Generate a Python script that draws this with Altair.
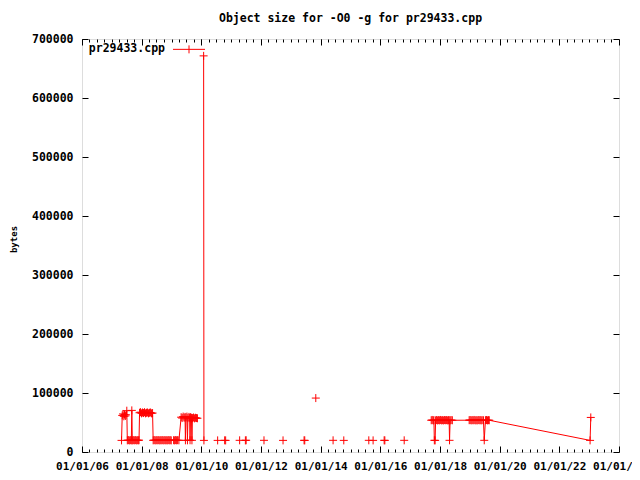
import altair as alt
import pandas as pd

SERIES = "pr29433.cpp"
TITLE = "Object size for -O0 -g for pr29433.cpp"

# ---- data (decimal years, bytes), one list pair per connected run ----
run_2007_years = [2007.326, 2007.349, 2007.376, 2007.403, 2007.426, 2007.453, 2007.477, 2007.503,
                  2007.520, 2007.554, 2007.587, 2007.621, 2007.654, 2007.671, 2007.688, 2007.721,
                  2007.755, 2007.789, 2007.822, 2007.856, 2007.889, 2007.913,
                  2007.930, 2007.963, 2007.997, 2008.030, 2008.064, 2008.097, 2008.131, 2008.164,
                  2008.198, 2008.231, 2008.265, 2008.299, 2008.332, 2008.366,
                  2008.386, 2008.419, 2008.453, 2008.487, 2008.520, 2008.554, 2008.587, 2008.621,
                  2008.654, 2008.688, 2008.721, 2008.755, 2008.789, 2008.822, 2008.856, 2008.889,
                  2008.923, 2008.956, 2008.990,
                  2009.070, 2009.104, 2009.138, 2009.171, 2009.205, 2009.248,
                  2009.322, 2009.356, 2009.389, 2009.423, 2009.453, 2009.466, 2009.483, 2009.517,
                  2009.534, 2009.550, 2009.584, 2009.607, 2009.621, 2009.638, 2009.668, 2009.685,
                  2009.701, 2009.735, 2009.768, 2009.802, 2009.836, 2009.869]
run_2007_values = [19700, 62000, 64500, 60500, 63500, 61000, 63000, 70000,
                   19800, 20200, 19600, 20100, 19800, 70500, 19700, 20100,
                   19800, 20200, 19700, 20000, 19800, 20000,
                   66500, 67500, 65500, 67000, 66000, 67500, 65500, 66500,
                   67000, 65500, 66500, 67000, 65500, 66000,
                   19800, 20200, 19700, 20100, 19800, 20200, 19700, 20000,
                   19800, 20200, 19700, 20100, 19800, 20000, 19700, 20200,
                   19800, 20100, 19700,
                   20000, 19700, 20200, 19800, 20100, 19800,
                   59000, 57500, 60000, 58000, 59500, 19800, 58500, 60000,
                   19800, 57500, 59500, 58000, 19900, 59000, 58000, 19800,
                   57500, 58500, 57000, 58000, 57500, 57200]

run_2010_years = [2010.077, 2010.087]
run_2010_values = [671400, 19700]

single_years = [2010.547, 2010.782, 2010.815, 2011.285, 2011.477, 2011.503, 2012.101, 2012.738,
                2013.443, 2013.466, 2013.836, 2014.416, 2014.775, 2015.614, 2015.758, 2016.128,
                2016.151, 2016.799]
single_values = [19700, 19800, 19700, 19800, 19700, 19900, 19800, 19700,
                 19800, 19700, 91400, 19800, 19700, 19800, 19700, 19800,
                 19700, 19800]

run_2017_years = [2017.705, 2017.738, 2017.772, 2017.795, 2017.809, 2017.836, 2017.852, 2017.886,
                  2017.919, 2017.953, 2017.987, 2018.020, 2018.054, 2018.087, 2018.121, 2018.154,
                  2018.188, 2018.221, 2018.255, 2018.289, 2018.305, 2018.319, 2018.339, 2018.372,
                  2018.413,
                  2018.977, 2019.010, 2019.044, 2019.077, 2019.111, 2019.144, 2019.178, 2019.211,
                  2019.245, 2019.279, 2019.312, 2019.346, 2019.379, 2019.413, 2019.456, 2019.483,
                  2019.523, 2019.557, 2019.591, 2019.624, 2019.651,
                  2023.030, 2023.054]
run_2017_values = [53800, 54300, 53400, 54000, 19800, 19700, 53600, 54200,
                   53500, 54100, 53700, 54300, 53600, 54000, 53500, 54200,
                   53800, 54100, 53600, 54000, 53800, 19800, 53700, 54100,
                   53800,
                   53900, 54200, 53600, 54100, 53700, 54300, 53600, 54000,
                   53500, 54200, 53800, 54100, 53600, 54000, 53800, 19800,
                   53900, 54200, 53600, 54000, 53800,
                   19700, 58600]


def to_ts(y):
    yr = int(y)
    start = pd.Timestamp(yr, 1, 1)
    end = pd.Timestamp(yr + 1, 1, 1)
    return start + (end - start) * (y - yr)


rows = []
seg = 0
for ys, vs in [(run_2007_years, run_2007_values), (run_2010_years, run_2010_values)]:
    for y, v in zip(ys, vs):
        rows.append({"date": to_ts(y), "value": v, "seg": seg})
    seg += 1
for y, v in zip(single_years, single_values):
    rows.append({"date": to_ts(y), "value": v, "seg": seg})
    seg += 1
for y, v in zip(run_2017_years, run_2017_values):
    rows.append({"date": to_ts(y), "value": v, "seg": seg})
df = pd.DataFrame(rows)
df["idx"] = range(len(df))
df["series"] = SERIES

# ---- styling ----
W, H = 537, 413
FONT = "DejaVu Sans Mono"
FS = 11.5
RED = "#ff0000"
CROSS = "M-1,0H1M0,-1V1"

major_x = [alt.DateTime(year=y, month=1, date=1) for y in range(2006, 2025, 2)]
minor_x = [alt.DateTime(year=y, month=m, date=1) for y in range(2006, 2024) for m in (1, 4, 7, 10)]
y_ticks = list(range(0, 700001, 100000))

xscale = alt.Scale(domain=[alt.DateTime(year=2006, month=1, date=1),
                           alt.DateTime(year=2024, month=1, date=1)], nice=False)
yscale = alt.Scale(domain=[0, 700000], nice=False)

ax_x_main = alt.Axis(orient="bottom", values=major_x, format="%m/%d/%y", ticks=False,
                     domain=False, grid=False, labelFont=FONT, labelFontSize=11,
                     labelFontWeight="bold", labelColor="black", labelPadding=8.5,
                     labelOverlap=False, labelFlush=False, title=None)
ax_y_main = alt.Axis(orient="left", values=y_ticks, format="d", ticks=False, domain=False,
                     grid=False, labelFont=FONT, labelFontSize=FS, labelFontWeight="bold",
                     labelColor="black", labelPadding=9, labelOverlap=False, labelFlush=False,
                     title="bytes", titleFont=FONT, titleFontSize=9, titleFontWeight="bold",
                     titleColor="black", titleX=-68.5, titleY=200, titleAngle=270,
                     titleBaseline="middle", titleAlign="center")


def tick_axis(orient, values, size, offset):
    return alt.Axis(orient=orient, offset=offset, values=values, tickSize=size, ticks=True,
                    labels=False, domain=False, grid=False, title=None,
                    tickColor="black", tickWidth=1)


base = alt.Chart(df)

line = base.mark_line(strokeWidth=1, color=RED).encode(
    x=alt.X("date:T", scale=xscale, axis=ax_x_main),
    y=alt.Y("value:Q", scale=yscale, axis=ax_y_main),
    detail="seg:N",
    order="idx:Q",
    color=alt.Color("series:N", scale=alt.Scale(range=[RED]),
                    legend=alt.Legend(orient="none", legendX=71.5, legendY=4.6, title=None,
                                      padding=0,
                                      symbolType="M3.4375,0H11.4375M7.4375,-1V1",
                                      symbolSize=64, symbolStrokeWidth=1,
                                      symbolStrokeColor=RED, symbolFillColor="transparent",
                                      labelAlign="right", labelOffset=0,
                                      labelFont=FONT, labelFontSize=FS,
                                      labelFontWeight="bold", labelColor="black")),
)

points = base.mark_point(shape=CROSS, size=64, filled=False, strokeWidth=1, opacity=1,
                         color=RED).encode(
    x=alt.X("date:T", scale=xscale, axis=None),
    y=alt.Y("value:Q", scale=yscale, axis=None),
)


def ghost(xaxis, yaxis):
    return base.mark_point(opacity=0, size=1).encode(
        x=alt.X("date:T", scale=xscale, axis=xaxis),
        y=alt.Y("value:Q", scale=yscale, axis=yaxis),
    )


g1 = ghost(tick_axis("top", major_x, 6, -H), tick_axis("right", y_ticks, 6, -W))
g2 = ghost(tick_axis("top", minor_x, 3, -H), None)
g3 = ghost(tick_axis("bottom", major_x, 6, -H), tick_axis("left", y_ticks, 6, -W))
g4 = ghost(tick_axis("bottom", minor_x, 3, -H), None)

chart = alt.layer(line, points, g1, g2, g3, g4).resolve_axis(
    x="independent", y="independent"
).properties(
    width=W, height=H,
    title=alt.TitleParams(TITLE, font=FONT, fontSize=FS, fontWeight="bold", anchor="middle",
                          frame="group", offset=9, color="black"),
    autosize=alt.AutoSizeParams(type="none"),
    padding={"left": 74, "top": 31, "right": 13, "bottom": 20},
).configure_view(stroke="black", strokeWidth=1).configure(background="white")

chart.save("out.html", embed_options={"renderer": "svg", "actions": False})
